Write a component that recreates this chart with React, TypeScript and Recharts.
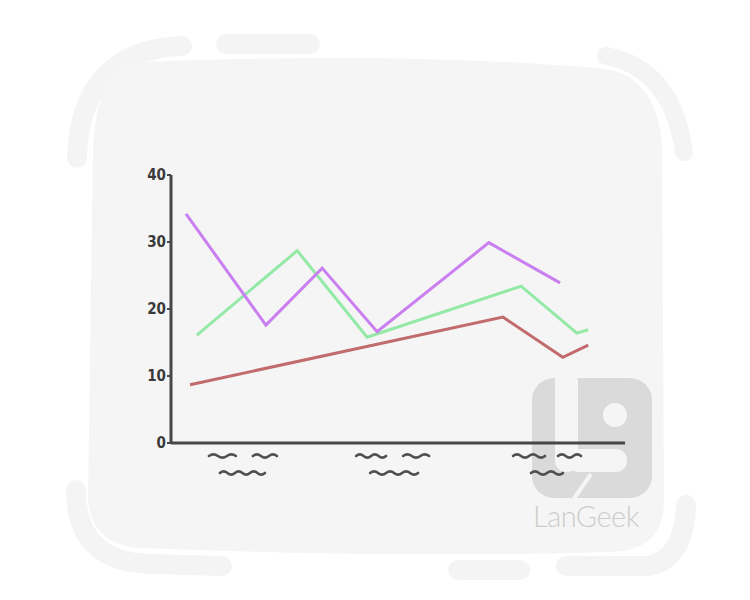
import React from "react";
import { Line, LineChart, XAxis, YAxis } from "recharts";

// series (x on a 0-100 scale along the axis)
const PURPLE = [
  { x: 3.3, y: 34.2 },
  { x: 20.9, y: 17.6 },
  { x: 33.3, y: 26.1 },
  { x: 45.4, y: 16.6 },
  { x: 70.0, y: 29.9 },
  { x: 85.7, y: 23.9 },
];
const GREEN = [
  { x: 5.7, y: 16.1 },
  { x: 27.8, y: 28.7 },
  { x: 43.2, y: 15.8 },
  { x: 77.1, y: 23.4 },
  { x: 89.4, y: 16.4 },
  { x: 91.9, y: 16.9 },
];
const RED = [
  { x: 4.2, y: 8.7 },
  { x: 73.1, y: 18.8 },
  { x: 86.3, y: 12.8 },
  { x: 91.9, y: 14.6 },
];
const X_TICKS = [15.4, 48.7, 82.6];
const Y_TICKS = [0, 10, 20, 30, 40];

const INK = "#474747";
const BG = "#f5f5f5";

// scribbled "labels" under the axis: [from, to, row] relative to tick centre
const SCRIBBLES = [
  [[-32, -5, 0], [12, 36, 0], [-21, 24, 1]],
  [[-36, -6, 0], [11, 37, 0], [-22, 26, 1]],
  [[-33, -1, 0], [12, 35, 0], [-15, 17, 1]],
];

function wave(x1: number, x2: number, y: number) {
  let d = `M ${x1} ${y}`;
  const n = Math.max(2, Math.round((x2 - x1) / 8));
  const step = (x2 - x1) / n;
  let up = true;
  for (let i = 1; i <= n; i++) {
    const x = x1 + i * step;
    d += ` Q ${x - step / 2} ${y + (up ? -3.2 : 3.2)} ${x} ${y}`;
    up = !up;
  }
  return d;
}

function ScribbleTick(props: any) {
  const { x, y, index } = props;
  const parts = SCRIBBLES[index] || [];
  return (
    <g>
      {parts.map(([a, b, row], i) => (
        <path
          key={i}
          d={wave(x + a, x + b, y + 5 + row * 17)}
          fill="none"
          stroke="#505050"
          strokeWidth={2.6}
          strokeLinecap="round"
        />
      ))}
    </g>
  );
}

function Backdrop() {
  const deco = "#f4f4f4";
  return (
    <svg width={750} height={600} style={{ position: "absolute", left: 0, top: 0 }}>
      <path d="M 77 158 Q 80 50 182 46" fill="none" stroke={deco} strokeWidth={20} strokeLinecap="round" />
      <path d="M 226 44 L 310 44" fill="none" stroke={deco} strokeWidth={20} strokeLinecap="round" />
      <path d="M 606 56 Q 672 68 684 152" fill="none" stroke={deco} strokeWidth={18} strokeLinecap="round" />
      <path d="M 76 490 Q 76 562 150 564 L 222 566" fill="none" stroke={deco} strokeWidth={20} strokeLinecap="round" />
      <path d="M 458 570 L 520 570" fill="none" stroke={deco} strokeWidth={20} strokeLinecap="round" />
      <path d="M 566 566 L 648 566 Q 684 560 686 505" fill="none" stroke={deco} strokeWidth={20} strokeLinecap="round" />
      <path
        d="M 138 62 Q 300 56 420 59 Q 560 63 612 70 Q 660 84 662 150 L 664 500 Q 664 550 612 552 Q 400 558 140 548 Q 92 545 88 500 L 93 150 Q 96 70 138 62 Z"
        fill={BG}
      />
      {/* watermark */}
      <rect x={532} y={378} width={120} height={120} rx={22} fill="#dadada" />
      <rect x={555} y={370} width={23} height={102} rx={11} fill={BG} />
      <rect x={568} y={449} width={59} height={23} rx={11} fill={BG} />
      <circle cx={615} cy={415} r={12} fill={BG} />
      <path d="M 591 474 L 573 500" stroke={BG} strokeWidth={4} />
      <text x={533} y={527} fontFamily="Lato, 'Open Sans', sans-serif" fontWeight={300} fontSize={29} fill="#cdcdcd" letterSpacing={-0.5}>
        LanGeek
      </text>
    </svg>
  );
}

export default function App() {
  return (
    <div style={{ position: "absolute", left: 0, top: 0, width: 750, height: 600, background: "#fff", overflow: "hidden" }}>
      <Backdrop />
      <div style={{ position: "absolute", left: 0, top: 0 }}>
        <LineChart width={750} height={600} margin={{ top: 175, right: 125, bottom: 117, left: 131 }}>
          <XAxis
            type="number"
            dataKey="x"
            domain={[0, 100]}
            ticks={X_TICKS}
            tick={<ScribbleTick />}
            tickLine={false}
            axisLine={{ stroke: INK, strokeWidth: 3 }}
            height={40}
          />
          <YAxis
            type="number"
            domain={[0, 40]}
            ticks={Y_TICKS}
            width={40}
            tickSize={4}
            tickMargin={1}
            tickLine={{ stroke: INK, strokeWidth: 2 }}
            axisLine={{ stroke: INK, strokeWidth: 3 }}
            tick={{ fill: "#3a3a3a", fontSize: 15, fontWeight: 700, fontFamily: "'DejaVu Sans Condensed', sans-serif" }}
          />
          <Line data={RED} dataKey="y" stroke="#c16b6d" strokeWidth={3} dot={false} isAnimationActive={false} />
          <Line data={GREEN} dataKey="y" stroke="#93e9a6" strokeWidth={3} dot={false} isAnimationActive={false} />
          <Line data={PURPLE} dataKey="y" stroke="#c97ff0" strokeWidth={3} dot={false} isAnimationActive={false} />
        </LineChart>
      </div>
    </div>
  );
}
